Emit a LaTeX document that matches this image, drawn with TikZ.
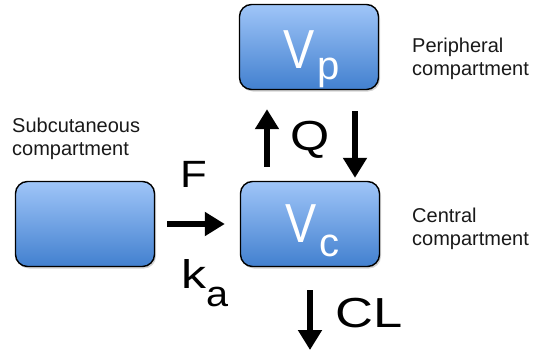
\documentclass[tikz,border=0pt]{standalone}
\usepackage{fontspec}
\setmainfont{Liberation Sans}
\usetikzlibrary{arrows.meta,shadows}
\definecolor{boxtop}{HTML}{9FC5F8}
\definecolor{boxbot}{HTML}{4280CF}
\tikzset{
  comp/.style={draw=black, line width=1.4pt, rounded corners=12pt,
    minimum width=139pt, minimum height=85pt, inner sep=0pt,
    top color=boxtop, bottom color=boxbot,
    drop shadow={opacity=0.35, shadow xshift=1.5pt, shadow yshift=-2pt}},
  lbl/.style={anchor=base west, inner sep=0pt, font=\fontsize{20}{24}\selectfont, text=black!90},
  big/.style={anchor=base west, inner sep=0pt, font=\fontsize{#1}{#1}\selectfont},
  bigw/.style={anchor=base west, inner sep=0pt, text=white, font=\fontsize{#1}{#1}\selectfont},
  fat/.style={line width=6pt, -{Triangle[width=23pt,length=20pt]}}
}
\begin{document}
\begin{tikzpicture}[x=1pt,y=-1pt]
\useasboundingbox (0,0) rectangle (539,354);
% boxes
\node[comp] (vp) at (309,47) {};
\node[comp] (vc) at (310,224) {};
\node[comp] (sc) at (85,224) {};
% box texts
\node[bigw=55] (vpV) at (283,68) {\scalebox{0.85}[1]{V}};
\node[bigw=40] (vpS) at (317,79) {p};
\node[bigw=55] (vcV) at (285,242) {\scalebox{0.85}[1]{V}};
\node[bigw=40] (vcS) at (319,256) {c};
% labels
\node[lbl] (l1) at (412,52) {Peripheral};
\node[lbl] (l2) at (412,75) {compartment};
\node[lbl] (l3) at (12,132) {Subcutaneous};
\node[lbl] (l4) at (12,155) {compartment};
\node[lbl] (l5) at (412,222) {Central};
\node[lbl] (l6) at (412,245) {compartment};
% arrows
\draw[fat, shorten <=12pt, shorten >=15pt] (sc.east) -- (vc.west);
\draw[fat, shorten <=14pt, shorten >=19pt] ([xshift=-43pt]vc.north) -- ([xshift=-42pt]vp.south);
\draw[fat, shorten <=21pt, shorten >=3pt] ([xshift=46pt]vp.south) -- ([xshift=45pt]vc.north);
\coordinate (clend) at (310,350);
\draw[fat, shorten <=23pt] (vc.south) -- (clend);
% arrow labels
\node[big=38] (F) at (180,187) {\scalebox{1.15}[1]{F}};
\node[big=40] (k) at (181,288) {\scalebox{1.25}[1]{k}};
\node[big=36] (ka) at (206,306) {\scalebox{1.1}[1]{a}};
\node[big=42] (Q) at (290,150) {\scalebox{1.2}[1]{Q}};
\node[big=42] (CL) at (335,327) {\scalebox{1.25}[1]{CL}};
\end{tikzpicture}
\end{document}
